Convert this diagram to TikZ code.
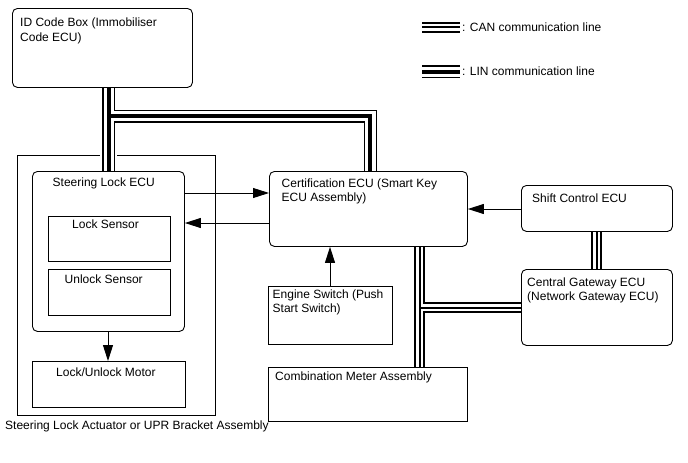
\documentclass[tikz,border=0pt]{standalone}
\usepackage{fontspec}
\setmainfont{Liberation Sans}
\usetikzlibrary{arrows.meta}
\pgfdeclarelayer{back}
\pgfdeclarelayer{mid}
\pgfsetlayers{back,mid,main}
\newcommand\canpath[1]{%
 \draw[black,line width=11pt] #1;
 \draw[white,line width=7pt] #1;
 \draw[black,line width=2pt] #1;}
\newcommand\linpath[1]{%
 \draw[white,line width=17pt] #1;
 \draw[black,line width=13pt] #1;
 \draw[white,line width=10.6pt] #1;
 \draw[black,line width=4.2pt] #1;}
\begin{document}
\begin{tikzpicture}[x=1pt,y=-1pt,
  rbox/.style={draw, fill=white, rounded corners=5pt, anchor=north west, inner sep=0pt, line width=0.9pt},
  sbox/.style={draw, fill=white, anchor=north west, inner sep=0pt, line width=0.9pt},
  txt/.style={anchor=base west, inner sep=0pt, font=\fontsize{12}{14}\selectfont},
  arr/.style={-{Triangle[length=16pt,width=10pt]}, line width=0.9pt},
  line join=miter]
\useasboundingbox (0,0) rectangle (688,463);
\begin{pgfonlayer}{back}
\node[sbox, minimum width=198, minimum height=260] (act) at (17,155) {};
\end{pgfonlayer}
% boxes
\node[rbox, minimum width=180, minimum height=79] (idb) at (12,8) {};
\node[rbox, minimum width=152, minimum height=160] (slecu) at (32,171) {};
\node[sbox, minimum width=122, minimum height=45] (lock) at (48,216) {};
\node[sbox, minimum width=122, minimum height=46] (unlock) at (48,269) {};
\node[sbox, minimum width=153, minimum height=46] (motor) at (32,361) {};
\node[rbox, minimum width=198, minimum height=75] (cert) at (269,171) {};
\node[sbox, minimum width=124, minimum height=58] (eng) at (268,286) {};
\node[sbox, minimum width=199, minimum height=54] (comb) at (268,367) {};
\node[rbox, minimum width=151, minimum height=46] (shift) at (521,185) {};
\node[rbox, minimum width=151, minimum height=76] (gw) at (521,269) {};
% texts
\node[txt] (t1) at (20,27) {ID Code Box (Immobiliser};
\node[txt] (t2) at (20,41) {Code ECU)};
\node[txt] (t3) at (52.5,186.5) {Steering Lock ECU};
\node[txt] (t4) at (72,228) {Lock Sensor};
\node[txt] (t5) at (64.5,283.5) {Unlock Sensor};
\node[txt] (t6) at (56,376) {Lock/Unlock Motor};
\node[txt] (t7) at (5,429) {Steering Lock Actuator or UPR Bracket Assembly};
\node[txt] (t8) at (281.5,187) {Certification ECU (Smart Key};
\node[txt] (t9) at (281.5,201) {ECU Assembly)};
\node[txt] (t10) at (272.5,298) {Engine Switch (Push};
\node[txt] (t11) at (272.5,312) {Start Switch)};
\node[txt] (t12) at (275,380) {Combination Meter Assembly};
\node[txt] (t13) at (532,202) {Shift Control ECU};
\node[txt] (t14) at (527,286) {Central Gateway ECU};
\node[txt] (t15) at (527,300) {(Network Gateway ECU)};
\node[txt] (t16) at (462,31) {: CAN communication line};
\node[txt] (t17) at (462,75.5) {: LIN communication line};
% coordinates
\coordinate (linx) at (108.8,0);
\coordinate (linb) at (370.3,116);
\coordinate (canx) at (419.7,0);
\coordinate (canb) at (0,307.5);
\coordinate (cansx) at (596.5,0);
\coordinate (lca) at (422,27.3);
\coordinate (lcb) at (460,27.3);
\coordinate (lla) at (422,71.8);
\coordinate (llb) at (460,71.8);
\begin{pgfonlayer}{mid}
\linpath{(linx |- idb.south) -- (linx |- slecu.north) (linx |- linb) -- (linb) -- (linb |- cert.north)}
\canpath{(canx |- cert.south) -- (canx |- comb.north) (canx |- canb) -- (gw.west |- canb)}
\canpath{(cansx |- shift.south) -- (cansx |- gw.north)}
\canpath{(lca) -- (lcb)}
\linpath{(lla) -- (llb)}
\end{pgfonlayer}
% arrows
\coordinate (ya) at (0,193);
\coordinate (yb) at (0,223);
\coordinate (yc) at (0,209);
\coordinate (xe) at (330,0);
\coordinate (xm) at (108,0);
\draw[arr] (slecu.east |- ya) -- (cert.west |- ya);
\draw[arr] (cert.west |- yb) -- (slecu.east |- yb);
\draw[arr] (shift.west |- yc) -- (cert.east |- yc);
\draw[arr] (xe |- eng.north) -- (xe |- cert.south);
\draw[arr] (xm |- slecu.south) -- (xm |- motor.north);
\end{tikzpicture}
\end{document}
